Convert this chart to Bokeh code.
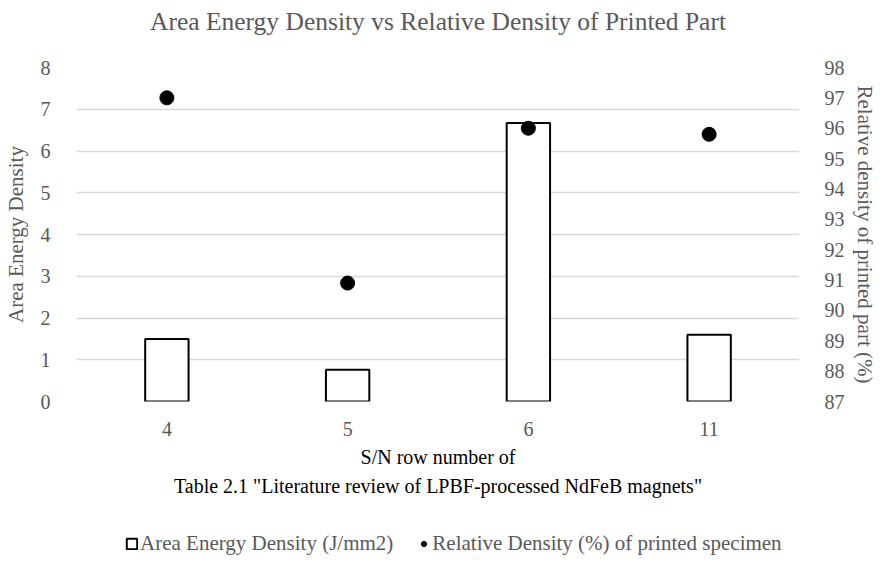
from bokeh.plotting import figure
from bokeh.layouts import column
from bokeh.models import (Range1d, LinearAxis, FixedTicker, FactorRange, Title,
                          Legend, LegendItem, ColumnDataSource)
from bokeh.embed import file_html
from bokeh.resources import INLINE

categories = ["4", "5", "6", "11"]
area_energy_density = [1.50, 0.76, 6.67, 1.60]
relative_density = [97.0, 90.9, 96.0, 95.8]
left_ticks = [0, 1, 2, 3, 4, 5, 6, 7, 8]
right_ticks = [87, 88, 89, 90, 91, 92, 93, 94, 95, 96, 97, 98]

FONT = "Liberation Serif"
GRAY = "#595959"

src = ColumnDataSource(dict(cat=categories, aed=area_energy_density, rd=relative_density))

p = figure(width=879, height=532, x_range=FactorRange(*categories),
           y_range=Range1d(0, 8), output_backend="svg", toolbar_location=None,
           min_border_left=60, min_border_right=71, min_border_top=67,
           min_border_bottom=131)
p.extra_y_ranges = {"right": Range1d(87, 98)}

p.title.text = "Area Energy Density vs Relative Density of Printed Part"
p.title.align = "center"
p.title.text_font = FONT
p.title.text_font_size = "25.5px"
p.title.text_font_style = "normal"
p.title.text_color = GRAY
p.title.standoff = 9

# empty spacer between the chart title and the plotting area
spacer = Title(text=" ", text_font_size="14px", standoff=9)
p.add_layout(spacer, "above")

p.outline_line_color = None
p.xgrid.grid_line_color = None
p.ygrid.grid_line_color = "#d9d9d9"
p.ygrid.grid_line_width = 1.3
p.ygrid.ticker = FixedTicker(ticks=left_ticks)

bars = p.vbar(x="cat", top="aed", width=0.24, source=src, fill_color="white",
              line_color="black", line_width=2)
pts = p.scatter(x="cat", y="rd", source=src, y_range_name="right", size=14,
                marker="circle", fill_color="black", line_color="black")

def style_axis(ax):
    ax.axis_line_color = None
    ax.major_tick_line_color = None
    ax.minor_tick_line_color = None
    ax.major_label_text_font = FONT
    ax.major_label_text_font_size = "20px"
    ax.major_label_text_color = GRAY
    ax.axis_label_text_font = FONT
    ax.axis_label_text_font_size = "21px"
    ax.axis_label_text_font_style = "normal"
    ax.axis_label_text_color = GRAY

yl = p.yaxis[0]
yl.ticker = FixedTicker(ticks=left_ticks)
yl.axis_label = "Area Energy Density"
yl.major_label_standoff = 20
yl.axis_label_standoff = 10
style_axis(yl)

yr = LinearAxis(y_range_name="right", ticker=FixedTicker(ticks=right_ticks),
                axis_label="Relative density of printed part (%)")
yr.major_label_standoff = 19
yr.axis_label_standoff = 5
style_axis(yr)
p.add_layout(yr, "right")

xa = p.xaxis[0]
xa.major_label_standoff = 14
style_axis(xa)

t1 = Title(text="S/N row number of", align="center", text_font=FONT,
           text_font_size="20px", text_font_style="normal", text_color="black",
           standoff=10)
t2 = Title(text='Table 2.1 "Literature review of LPBF-processed NdFeB magnets"',
           align="center", text_font=FONT, text_font_size="20px",
           text_font_style="normal", text_color="black", standoff=0)
p.add_layout(t1, "below")
p.add_layout(t2, "below")

# legend strip below the chart; hidden proxy renderers styled like the series
leg = figure(width=879, height=24, x_range=FactorRange(*categories),
             y_range=Range1d(0, 8), output_backend="svg", toolbar_location=None,
             x_axis_location=None, y_axis_location=None, min_border=0)
leg.outline_line_color = None
leg.xgrid.visible = False
leg.ygrid.visible = False
bar_proxy = leg.vbar(x="cat", top="aed", width=0.24, source=src, fill_color="white",
                     line_color="black", line_width=2, visible=False)
pt_proxy = leg.scatter(x="cat", y="rd", source=src, size=14, marker="circle",
                       fill_color="black", line_color="black", visible=False)

legend = Legend(items=[
    LegendItem(label="Area Energy Density (J/mm2)", renderers=[bar_proxy]),
    LegendItem(label="Relative Density (%) of printed specimen", renderers=[pt_proxy]),
], orientation="horizontal", location=(49, 0))
legend.label_text_font = FONT
legend.label_text_font_size = "21px"
legend.label_text_color = GRAY
legend.border_line_color = None
legend.background_fill_alpha = 0
legend.inactive_fill_alpha = 0
legend.glyph_width = 13
legend.glyph_height = 13
legend.label_standoff = 2
legend.spacing = 24
legend.margin = 0
legend.padding = 0
leg.add_layout(legend, "center")

layout = column(p, leg, spacing=0)
open("out.html", "w").write(file_html(layout, INLINE))
